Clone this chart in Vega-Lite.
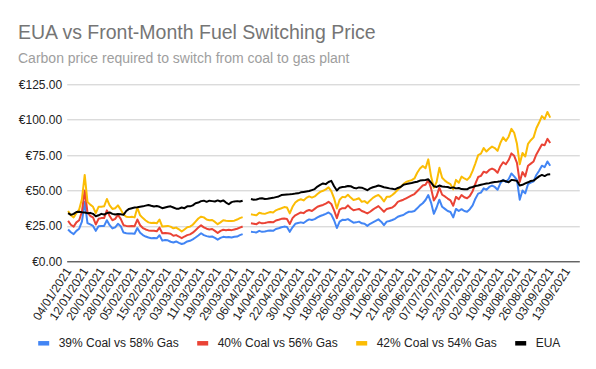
{
  "$schema": "https://vega.github.io/schema/vega-lite/v6.json",
  "autosize": {"type": "none"},
  "padding": {"left": 66.7, "top": 84.3, "right": 16.7, "bottom": 107.7},
  "width": 512.6,
  "height": 177,
  "background": "white",
  "title": {
    "text": "EUA vs Front-Month Fuel Switching Price",
    "subtitle": "Carbon price required to switch from coal to gas plant",
    "anchor": "start",
    "frame": "group",
    "dx": -48.7,
    "offset": 11,
    "font": "Liberation Sans",
    "fontSize": 19.5,
    "fontWeight": "normal",
    "color": "#757575",
    "subtitleFont": "Liberation Sans",
    "subtitleFontSize": 14,
    "subtitleColor": "#9e9e9e",
    "subtitlePadding": 9
  },
  "data": {"values": [
    {"d":"04/01/2021","b":22.5,"r":28.5,"y":35.5,"e":34},
    {"d":"05/01/2021","b":20.5,"r":25.8,"y":32.5,"e":32.8},
    {"d":"06/01/2021","b":19.2,"r":24.5,"y":31,"e":33.5},
    {"d":"07/01/2021","b":21.5,"r":27.5,"y":34,"e":34.8},
    {"d":"08/01/2021","b":23,"r":29,"y":36.5,"e":35},
    {"d":"11/01/2021","b":28,"r":35,"y":44,"e":34.6},
    {"d":"12/01/2021","b":42,"r":50,"y":61,"e":34.5},
    {"d":"13/01/2021","b":27,"r":34.5,"y":42,"e":34},
    {"d":"14/01/2021","b":26,"r":32,"y":40,"e":34.2},
    {"d":"15/01/2021","b":25,"r":31,"y":38.5,"e":33.5},
    {"d":"18/01/2021","b":21.5,"r":26,"y":34,"e":31.8},
    {"d":"19/01/2021","b":24.8,"r":30,"y":38.5,"e":32.5},
    {"d":"20/01/2021","b":25,"r":30.5,"y":38.5,"e":33.5},
    {"d":"21/01/2021","b":25,"r":30.5,"y":38.8,"e":33},
    {"d":"22/01/2021","b":29,"r":36,"y":44,"e":34},
    {"d":"25/01/2021","b":25.5,"r":32,"y":39.5,"e":34.5},
    {"d":"26/01/2021","b":23.2,"r":29,"y":37,"e":33.5},
    {"d":"27/01/2021","b":24,"r":30,"y":37.5,"e":33},
    {"d":"28/01/2021","b":26.5,"r":32.8,"y":39.5,"e":33.4},
    {"d":"29/01/2021","b":24.8,"r":30,"y":36.5,"e":33.2},
    {"d":"01/02/2021","b":20.3,"r":25.5,"y":33,"e":32.8},
    {"d":"02/02/2021","b":19.8,"r":25,"y":31.5,"e":35.5},
    {"d":"03/02/2021","b":19.6,"r":24.8,"y":31.2,"e":37},
    {"d":"04/02/2021","b":19.7,"r":25,"y":31.5,"e":37.5},
    {"d":"05/02/2021","b":19.5,"r":24.8,"y":31,"e":38},
    {"d":"08/02/2021","b":23.5,"r":29.5,"y":37.8,"e":38.2},
    {"d":"09/02/2021","b":20.2,"r":25.5,"y":32.5,"e":38.5},
    {"d":"10/02/2021","b":18.5,"r":23.5,"y":30.5,"e":38.8},
    {"d":"11/02/2021","b":17.5,"r":22.5,"y":28.8,"e":39.3},
    {"d":"12/02/2021","b":16.8,"r":21.8,"y":27.5,"e":39.8},
    {"d":"15/02/2021","b":16.3,"r":21.5,"y":27,"e":39.2},
    {"d":"16/02/2021","b":16.5,"r":21.5,"y":27.2,"e":38.7},
    {"d":"17/02/2021","b":16.2,"r":21.2,"y":26.8,"e":39},
    {"d":"18/02/2021","b":18.4,"r":23.8,"y":29.5,"e":38.5},
    {"d":"19/02/2021","b":14.6,"r":19.8,"y":24.5,"e":37.5},
    {"d":"22/02/2021","b":15,"r":20,"y":24.8,"e":38},
    {"d":"23/02/2021","b":14.8,"r":19.8,"y":25,"e":38.5},
    {"d":"24/02/2021","b":13.8,"r":19.5,"y":24.5,"e":38.8},
    {"d":"25/02/2021","b":13.3,"r":18,"y":23.3,"e":38},
    {"d":"26/02/2021","b":14,"r":18.5,"y":23.8,"e":37.2},
    {"d":"01/03/2021","b":13,"r":17.5,"y":22.6,"e":37.2},
    {"d":"02/03/2021","b":12.2,"r":16.3,"y":21,"e":38},
    {"d":"03/03/2021","b":12.8,"r":17.5,"y":22.5,"e":37.5},
    {"d":"04/03/2021","b":14,"r":18.5,"y":24,"e":38.8},
    {"d":"05/03/2021","b":14.5,"r":19,"y":24.5,"e":38.8},
    {"d":"08/03/2021","b":15.5,"r":20.2,"y":25.8,"e":39.5},
    {"d":"09/03/2021","b":16.8,"r":22,"y":28,"e":41},
    {"d":"10/03/2021","b":18.2,"r":23.8,"y":30.2,"e":41.5},
    {"d":"11/03/2021","b":19.8,"r":25.4,"y":31.5,"e":42.5},
    {"d":"12/03/2021","b":18.5,"r":24,"y":31,"e":42.8},
    {"d":"15/03/2021","b":17.8,"r":23,"y":29.5,"e":42},
    {"d":"16/03/2021","b":17.3,"r":22.5,"y":29,"e":42.8},
    {"d":"17/03/2021","b":17.5,"r":22.8,"y":29.2,"e":42.5},
    {"d":"18/03/2021","b":16.6,"r":21.5,"y":27.8,"e":42.2},
    {"d":"19/03/2021","b":15.3,"r":20,"y":26.2,"e":43},
    {"d":"22/03/2021","b":16.5,"r":21.5,"y":27.5,"e":42.2},
    {"d":"23/03/2021","b":17.3,"r":22.3,"y":29,"e":43},
    {"d":"24/03/2021","b":17,"r":22,"y":28.7,"e":41.5},
    {"d":"25/03/2021","b":17.2,"r":22.3,"y":28.5,"e":40.3},
    {"d":"26/03/2021","b":16.8,"r":22,"y":28.5,"e":41.8},
    {"d":"29/03/2021","b":17.3,"r":22.5,"y":28.7,"e":42.3},
    {"d":"30/03/2021","b":17.5,"r":23,"y":29.5,"e":42.5},
    {"d":"31/03/2021","b":18.5,"r":23.8,"y":30.5,"e":42.2},
    {"d":"01/04/2021","b":19.2,"r":24.6,"y":31.2,"e":42.8},
    {"d":"02/04/2021","b":null,"r":null,"y":null,"e":null},
    {"d":"05/04/2021","b":null,"r":null,"y":null,"e":null},
    {"d":"06/04/2021","b":20.8,"r":26.8,"y":33.2,"e":44},
    {"d":"07/04/2021","b":20.6,"r":26.5,"y":32.8,"e":43.5},
    {"d":"08/04/2021","b":20.4,"r":26.2,"y":32.5,"e":43.6},
    {"d":"09/04/2021","b":21.5,"r":27.5,"y":34.3,"e":44.3},
    {"d":"12/04/2021","b":20.8,"r":26.8,"y":33.8,"e":44.5},
    {"d":"13/04/2021","b":21,"r":27,"y":33.5,"e":44},
    {"d":"14/04/2021","b":21.5,"r":27.5,"y":34.2,"e":44.2},
    {"d":"15/04/2021","b":21.8,"r":27.8,"y":34.8,"e":44.5},
    {"d":"16/04/2021","b":21.5,"r":27.5,"y":34.5,"e":44.8},
    {"d":"19/04/2021","b":22.8,"r":28.8,"y":36,"e":45.3},
    {"d":"20/04/2021","b":23.3,"r":29.3,"y":36.8,"e":45.8},
    {"d":"21/04/2021","b":24,"r":30,"y":37.5,"e":46.8},
    {"d":"22/04/2021","b":24.5,"r":30.2,"y":38.3,"e":47},
    {"d":"23/04/2021","b":24.2,"r":29.8,"y":38,"e":47.2},
    {"d":"26/04/2021","b":20.8,"r":26.3,"y":33.8,"e":47.3},
    {"d":"27/04/2021","b":24,"r":30.5,"y":38.5,"e":47.5},
    {"d":"28/04/2021","b":26.5,"r":32.5,"y":41.5,"e":47.8},
    {"d":"29/04/2021","b":27,"r":33.5,"y":43,"e":48},
    {"d":"30/04/2021","b":27.5,"r":34.5,"y":43.8,"e":48.7},
    {"d":"03/05/2021","b":27,"r":34,"y":43,"e":49},
    {"d":"04/05/2021","b":28.5,"r":35.5,"y":44.8,"e":49.3},
    {"d":"05/05/2021","b":29.6,"r":36.2,"y":45.8,"e":49.6},
    {"d":"06/05/2021","b":29.2,"r":35.5,"y":45,"e":50.3},
    {"d":"07/05/2021","b":29.8,"r":37,"y":45.8,"e":51},
    {"d":"10/05/2021","b":31,"r":38.5,"y":47.5,"e":52.8},
    {"d":"11/05/2021","b":32,"r":39.2,"y":49,"e":54},
    {"d":"12/05/2021","b":32.7,"r":39.8,"y":49.8,"e":55},
    {"d":"13/05/2021","b":33.5,"r":40.8,"y":50.8,"e":54.5},
    {"d":"14/05/2021","b":34.5,"r":42,"y":52.2,"e":56},
    {"d":"17/05/2021","b":33,"r":40.5,"y":49.5,"e":56.8},
    {"d":"18/05/2021","b":29,"r":36,"y":44.5,"e":53},
    {"d":"19/05/2021","b":23.5,"r":30.5,"y":37.3,"e":50},
    {"d":"20/05/2021","b":28,"r":36.5,"y":43.5,"e":52},
    {"d":"21/05/2021","b":29.3,"r":37.5,"y":45.5,"e":52.5},
    {"d":"24/05/2021","b":29.2,"r":37.5,"y":45.3,"e":52.7},
    {"d":"25/05/2021","b":29.8,"r":39.5,"y":47,"e":53.2},
    {"d":"26/05/2021","b":28.5,"r":37.5,"y":45,"e":53},
    {"d":"27/05/2021","b":27.3,"r":36,"y":43.3,"e":52},
    {"d":"28/05/2021","b":27.5,"r":36.5,"y":43.8,"e":51.5},
    {"d":"31/05/2021","b":28,"r":37,"y":44.5,"e":52.2},
    {"d":"01/06/2021","b":26.8,"r":35.5,"y":42,"e":52},
    {"d":"02/06/2021","b":26.5,"r":34.8,"y":42.5,"e":51.2},
    {"d":"03/06/2021","b":25,"r":33.8,"y":41,"e":50.2},
    {"d":"04/06/2021","b":26.5,"r":35,"y":43,"e":51.5},
    {"d":"07/06/2021","b":27.5,"r":36.5,"y":44.8,"e":52.3},
    {"d":"08/06/2021","b":28.5,"r":37.8,"y":46,"e":52.8},
    {"d":"09/06/2021","b":29.6,"r":39,"y":46.8,"e":53.5},
    {"d":"10/06/2021","b":28,"r":37,"y":45,"e":53},
    {"d":"11/06/2021","b":25.5,"r":35,"y":42.2,"e":52.3},
    {"d":"14/06/2021","b":28,"r":37,"y":45.5,"e":52},
    {"d":"15/06/2021","b":28.5,"r":37.5,"y":45.5,"e":51.5},
    {"d":"16/06/2021","b":29.2,"r":38,"y":46.8,"e":51.2},
    {"d":"17/06/2021","b":30,"r":39.5,"y":48.5,"e":50.8},
    {"d":"18/06/2021","b":31.5,"r":42,"y":50.5,"e":51.8},
    {"d":"21/06/2021","b":32.2,"r":42.8,"y":52.5,"e":52.5},
    {"d":"22/06/2021","b":32.7,"r":43.5,"y":54.5,"e":54},
    {"d":"23/06/2021","b":34,"r":44.5,"y":56,"e":54.5},
    {"d":"24/06/2021","b":35,"r":45.5,"y":56.8,"e":55},
    {"d":"25/06/2021","b":35,"r":46.5,"y":57.3,"e":55.3},
    {"d":"28/06/2021","b":35.5,"r":47.5,"y":58.5,"e":55.8},
    {"d":"29/06/2021","b":37.4,"r":49.5,"y":62.5,"e":56.2},
    {"d":"30/06/2021","b":39.5,"r":51.5,"y":65.5,"e":57},
    {"d":"01/07/2021","b":41,"r":53.5,"y":67.3,"e":57.2},
    {"d":"02/07/2021","b":43.3,"r":54,"y":65.7,"e":57.4},
    {"d":"05/07/2021","b":46.8,"r":57.4,"y":72,"e":57.9},
    {"d":"06/07/2021","b":41.5,"r":51.5,"y":60,"e":55.5},
    {"d":"07/07/2021","b":33.5,"r":43,"y":52,"e":53},
    {"d":"08/07/2021","b":38,"r":46,"y":56,"e":52.5},
    {"d":"09/07/2021","b":43.5,"r":52,"y":66,"e":53.5},
    {"d":"12/07/2021","b":38.5,"r":47,"y":59,"e":52.8},
    {"d":"13/07/2021","b":37,"r":45.8,"y":57,"e":52.6},
    {"d":"14/07/2021","b":35.5,"r":44.3,"y":55.5,"e":52.5},
    {"d":"15/07/2021","b":34.8,"r":43,"y":54.5,"e":51.8},
    {"d":"16/07/2021","b":31,"r":39.2,"y":50.8,"e":52.2},
    {"d":"19/07/2021","b":37,"r":45.5,"y":57.5,"e":51.5},
    {"d":"20/07/2021","b":35.5,"r":43.8,"y":55.5,"e":51.8},
    {"d":"21/07/2021","b":36.8,"r":46.8,"y":59.8,"e":51},
    {"d":"22/07/2021","b":35.5,"r":45.2,"y":58.5,"e":50.8},
    {"d":"23/07/2021","b":35,"r":44.5,"y":57.5,"e":50.8},
    {"d":"26/07/2021","b":36.8,"r":46.2,"y":59.5,"e":52},
    {"d":"27/07/2021","b":39.5,"r":49.5,"y":63.8,"e":52.5},
    {"d":"28/07/2021","b":44.2,"r":54.8,"y":69.2,"e":53.2},
    {"d":"29/07/2021","b":47.8,"r":59.5,"y":75,"e":53.5},
    {"d":"30/07/2021","b":48.5,"r":60.3,"y":76,"e":54},
    {"d":"02/08/2021","b":51.5,"r":63.3,"y":80,"e":54.5},
    {"d":"03/08/2021","b":50.5,"r":62.5,"y":77.5,"e":55},
    {"d":"04/08/2021","b":52.5,"r":64.5,"y":79.5,"e":55.2},
    {"d":"05/08/2021","b":53.5,"r":65.5,"y":81,"e":55.6},
    {"d":"06/08/2021","b":52.5,"r":64.5,"y":80,"e":56},
    {"d":"09/08/2021","b":50.5,"r":62.5,"y":78,"e":56.2},
    {"d":"10/08/2021","b":55,"r":67,"y":83.5,"e":56.5},
    {"d":"11/08/2021","b":57.5,"r":70,"y":87.5,"e":57},
    {"d":"12/08/2021","b":56,"r":68.5,"y":85,"e":56.5},
    {"d":"13/08/2021","b":58,"r":71.5,"y":88,"e":55.8},
    {"d":"16/08/2021","b":62,"r":76.2,"y":93.5,"e":57.5},
    {"d":"17/08/2021","b":60,"r":74.5,"y":90.8,"e":57.2},
    {"d":"18/08/2021","b":57.5,"r":69.5,"y":83,"e":56.8},
    {"d":"19/08/2021","b":43.5,"r":56,"y":68.5,"e":53.5},
    {"d":"20/08/2021","b":50,"r":63,"y":76.5,"e":54},
    {"d":"23/08/2021","b":48,"r":60,"y":74,"e":55},
    {"d":"24/08/2021","b":54.5,"r":67.5,"y":83,"e":55.8},
    {"d":"25/08/2021","b":55.5,"r":69,"y":85.5,"e":56.7},
    {"d":"26/08/2021","b":56.5,"r":70.5,"y":87.5,"e":57},
    {"d":"27/08/2021","b":61,"r":75.5,"y":94,"e":58.5},
    {"d":"30/08/2021","b":64,"r":79,"y":98,"e":60},
    {"d":"31/08/2021","b":67.5,"r":82.5,"y":102.5,"e":61},
    {"d":"01/09/2021","b":66.5,"r":82,"y":100.5,"e":60.2},
    {"d":"02/09/2021","b":70.5,"r":86.5,"y":105.5,"e":61.3},
    {"d":"03/09/2021","b":67.5,"r":83.5,"y":101.5,"e":61.5},
    {"d":"06/09/2021","b":null,"r":null,"y":null,"e":null},
    {"d":"07/09/2021","b":null,"r":null,"y":null,"e":null},
    {"d":"08/09/2021","b":null,"r":null,"y":null,"e":null},
    {"d":"09/09/2021","b":null,"r":null,"y":null,"e":null},
    {"d":"10/09/2021","b":null,"r":null,"y":null,"e":null},
    {"d":"13/09/2021","b":null,"r":null,"y":null,"e":null},
    {"d":"14/09/2021","b":null,"r":null,"y":null,"e":null},
    {"d":"15/09/2021","b":null,"r":null,"y":null,"e":null},
    {"d":"16/09/2021","b":null,"r":null,"y":null,"e":null},
    {"d":"17/09/2021","b":null,"r":null,"y":null,"e":null}
  ]},
  "transform": [{"fold": ["b", "r", "y", "e"], "as": ["series", "price"]}],
  "mark": {"type": "line", "strokeWidth": 2, "invalid": "break-paths-show-domains", "strokeJoin": "round"},
  "encoding": {
    "x": {
      "field": "d",
      "type": "ordinal",
      "sort": null,
      "scale": {"type": "point", "padding": 0.5},
      "axis": {
        "title": null,
        "values": ["04/01/2021","12/01/2021","20/01/2021","28/01/2021","05/02/2021","15/02/2021","23/02/2021","03/03/2021","11/03/2021","19/03/2021","29/03/2021","06/04/2021","14/04/2021","22/04/2021","30/04/2021","10/05/2021","18/05/2021","26/05/2021","03/06/2021","11/06/2021","21/06/2021","29/06/2021","07/07/2021","15/07/2021","23/07/2021","02/08/2021","10/08/2021","18/08/2021","26/08/2021","03/09/2021","13/09/2021"],
        "labelAngle": -57,
        "labelAlign": "right",
        "labelBaseline": "middle",
        "labelPadding": 7,
        "labelFont": "Liberation Sans",
        "labelFontSize": 12,
        "labelColor": "#222222",
        "labelOverlap": false,
        "ticks": false,
        "grid": false,
        "domainColor": "#333333",
        "domainWidth": 1
      }
    },
    "y": {
      "field": "price",
      "type": "quantitative",
      "scale": {"domain": [0, 125], "nice": false, "zero": true},
      "axis": {
        "title": null,
        "values": [0, 25, 50, 75, 100, 125],
        "labelExpr": "'€' + format(datum.value, '.2f')",
        "labelFont": "Liberation Sans",
        "labelFontSize": 12,
        "labelColor": "#222222",
        "labelPadding": 5,
        "ticks": false,
        "domain": false,
        "grid": true,
        "gridColor": "#cccccc",
        "gridWidth": 1
      }
    },
    "color": {
      "field": "series",
      "type": "nominal",
      "sort": ["b", "r", "y", "e"],
      "scale": {"domain": ["b", "r", "y", "e"], "range": ["#4285f4", "#ea4335", "#fbbc04", "#000000"]},
      "legend": {
        "title": null,
        "orient": "none",
        "direction": "horizontal",
        "columns": 4,
        "gridAlign": "all",
        "legendX": -31,
        "legendY": 251,
        "padding": 0,
        "columnPadding": 8,
        "labelOffset": 7,
        "labelFont": "Liberation Sans",
        "labelFontSize": 12,
        "labelColor": "#222222",
        "symbolType": "stroke",
        "symbolSize": 121,
        "symbolStrokeWidth": 4.5,
        "labelExpr": "datum.label == 'b' ? '39% Coal vs 58% Gas' : datum.label == 'r' ? '40% Coal vs 56% Gas' : datum.label == 'y' ? '42% Coal vs 54% Gas' : 'EUA'"
      }
    }
  },
  "config": {"view": {"stroke": null}}
}
